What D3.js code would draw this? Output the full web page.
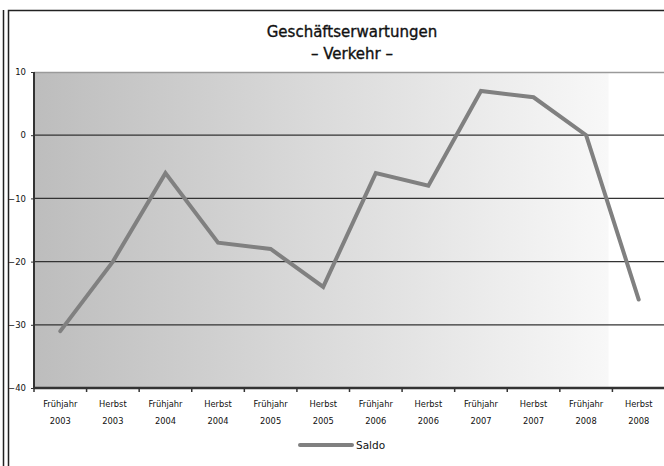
<!DOCTYPE html>
<html>
<head>
<meta charset="utf-8">
<script src="https://cdn.jsdelivr.net/npm/d3@7"></script>
<style>
  body { margin: 0; background: #fff; }
  text { font-family: "DejaVu Sans", sans-serif; }
</style>
</head>
<body>
<svg id="chart"></svg>
<script>
const seasons = ["Frühjahr", "Herbst", "Frühjahr", "Herbst", "Frühjahr", "Herbst",
                 "Frühjahr", "Herbst", "Frühjahr", "Herbst", "Frühjahr", "Herbst"]
const years = ["2003", "2003", "2004", "2004", "2005", "2005",
               "2006", "2006", "2007", "2007", "2008", "2008"]
const saldo = [-31, -20, -6, -17, -18, -24, -6, -8, 7, 6, 0, -26]
const yTicks = [-40, -30, -20, -10, 0, 10]
const titleLines = ["Geschäftserwartungen", "– Verkehr –"]
const seriesName = "Saldo"

const W = 664, H = 466
const margin = { top: 72, right: -1, bottom: 78, left: 34 }
const w = W - margin.left - margin.right
const h = H - margin.top - margin.bottom

const svg = d3.select("#chart").attr("width", W).attr("height", H)

// outer frame lines
svg.append("line").attr("x1", 3.5).attr("x2", 3.5).attr("y1", 10).attr("y2", H)
  .attr("stroke", "#222").attr("stroke-width", 1.5)
svg.append("path").attr("d", `M8.5,${H} V10.5 H${W}`)
  .attr("fill", "none").attr("stroke", "#222").attr("stroke-width", 1.5)

// title
svg.append("g").selectAll("text")
  .data(titleLines)
  .enter().append("text")
  .attr("x", 352).attr("y", (d, i) => 37 + i * 22)
  .attr("text-anchor", "middle")
  .attr("font-size", 15)
  .attr("fill", "#111")
  .attr("stroke", "#111").attr("stroke-width", 0.35)
  .text(d => d)

const defs = svg.append("defs")
const grad = defs.append("linearGradient").attr("id", "bg")
  .attr("gradientUnits", "userSpaceOnUse")
  .attr("x1", 0).attr("x2", w).attr("y1", 0).attr("y2", 0)
grad.append("stop").attr("offset", 0).attr("stop-color", "#bdbdbd")
grad.append("stop").attr("offset", 0.91).attr("stop-color", "#f8f8f8")
grad.append("stop").attr("offset", 0.911).attr("stop-color", "#ffffff")
grad.append("stop").attr("offset", 1).attr("stop-color", "#ffffff")

const g = svg.append("g").attr("transform", "translate(" + margin.left + "," + margin.top + ")")

const x = d3.scaleBand().domain(d3.range(saldo.length)).range([0, w])
const y = d3.scaleLinear().domain([-40, 10]).range([h, 0])

g.append("rect").attr("width", w).attr("height", h).attr("fill", "url(#bg)")

// top border of plot area
g.append("line").attr("x1", 0).attr("x2", w).attr("y1", 0.5).attr("y2", 0.5)
  .attr("stroke", "#9a9a9a").attr("stroke-width", 1.5)

// gridlines
g.append("g").selectAll("line")
  .data(yTicks.filter(t => t > -40 && t < 10))
  .enter().append("line")
  .attr("x1", 0).attr("x2", w)
  .attr("y1", d => y(d)).attr("y2", d => y(d))
  .attr("stroke", "#333").attr("stroke-width", 1.2)

// y axis
const gY = g.append("g").call(d3.axisLeft(y).tickValues(yTicks).tickSize(3).tickPadding(5))
gY.select(".domain").remove()
gY.selectAll(".tick line").attr("stroke", "#333")
gY.selectAll(".tick text").attr("font-size", 8.5).attr("fill", "#111")
  .attr("font-family", "DejaVu Sans")
g.append("line").attr("x1", 0).attr("x2", 0).attr("y1", 0).attr("y2", h)
  .attr("stroke", "#333").attr("stroke-width", 2)

// x axis
const gX = g.append("g").attr("transform", "translate(0," + h + ")")
gX.append("line").attr("x1", 0).attr("x2", w).attr("y1", 0).attr("y2", 0)
  .attr("stroke", "#333").attr("stroke-width", 2.5)
gX.selectAll(".xt")
  .data(d3.range(saldo.length + 1))
  .enter().append("line")
  .attr("class", "xt")
  .attr("x1", d => d * x.step()).attr("x2", d => d * x.step())
  .attr("y1", 0).attr("y2", 4)
  .attr("stroke", "#333").attr("stroke-width", 1.5)
const lbl = gX.selectAll(".xl")
  .data(d3.range(saldo.length))
  .enter().append("text")
  .attr("class", "xl")
  .attr("text-anchor", "middle")
  .attr("font-size", 8.3)
  .attr("fill", "#111")
lbl.append("tspan").attr("x", d => x(d) + x.bandwidth() / 2).attr("y", 19).text(d => seasons[d])
lbl.append("tspan").attr("x", d => x(d) + x.bandwidth() / 2).attr("y", 36).text(d => years[d])

// line
const line = d3.line()
  .x((d, i) => x(i) + x.bandwidth() / 2)
  .y(d => y(d))
g.append("path").datum(saldo)
  .attr("d", line)
  .attr("fill", "none")
  .attr("stroke", "#808080")
  .attr("stroke-width", 4)
  .attr("stroke-linejoin", "miter")
  .attr("stroke-linecap", "round")

// legend
const lg = svg.append("g").attr("transform", "translate(300,445)")
lg.append("line").attr("x1", 0).attr("x2", 52).attr("y1", 0).attr("y2", 0)
  .attr("stroke", "#808080").attr("stroke-width", 4).attr("stroke-linecap", "round")
lg.append("text").attr("x", 56).attr("y", 4).attr("font-size", 10.5).attr("fill", "#111").text(seriesName)
</script>
</body>
</html>
